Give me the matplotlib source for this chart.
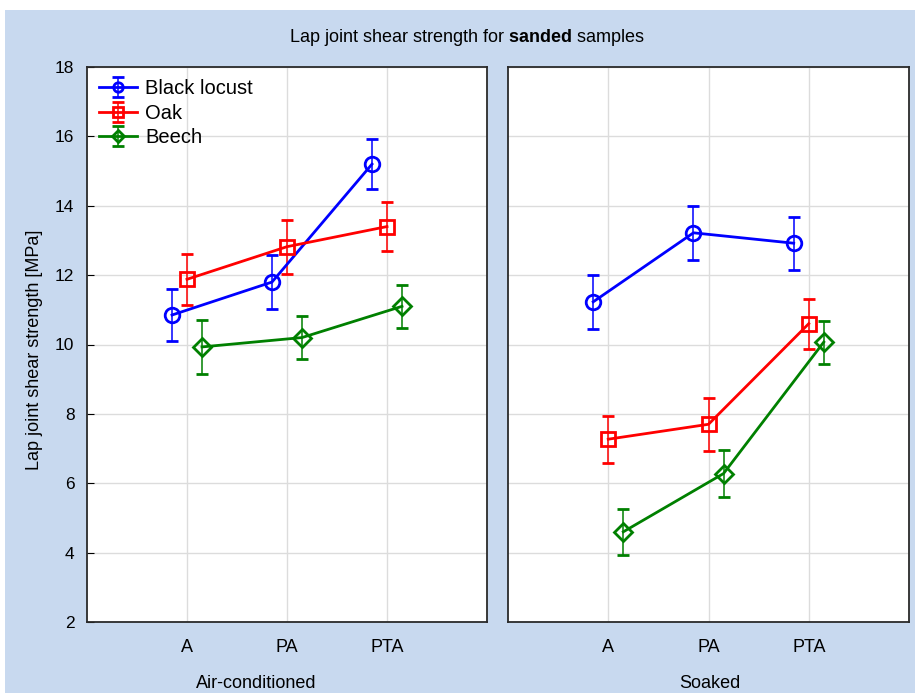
import numpy as np
import matplotlib.pyplot as plt
from matplotlib.patches import Rectangle

plt.rcParams['font.family'] = ['Liberation Sans', 'DejaVu Sans']
plt.rcParams['mathtext.fontset'] = 'custom'
plt.rcParams['mathtext.rm'] = 'Liberation Sans'
plt.rcParams['mathtext.bf'] = 'Liberation Sans:bold'

categories = ["A", "PA", "PTA"]
conditions = ["Air-conditioned", "Soaked"]
species = ["Black locust", "Oak", "Beech"]

# mean values [MPa] per condition
black_locust_air = [10.85, 11.8, 15.2]
oak_air = [11.88, 12.82, 13.4]
beech_air = [9.93, 10.2, 11.1]

black_locust_soaked = [11.23, 13.22, 12.92]
oak_soaked = [7.27, 7.7, 10.6]
beech_soaked = [4.6, 6.28, 10.07]

# half width of the error bars
err_black_locust_air = [0.75, 0.77, 0.73]
err_oak_air = [0.73, 0.78, 0.7]
err_beech_air = [0.78, 0.63, 0.62]

err_black_locust_soaked = [0.77, 0.77, 0.77]
err_oak_soaked = [0.68, 0.77, 0.72]
err_beech_soaked = [0.67, 0.68, 0.62]

colors = ["#0000ff", "#ff0000", "#008000"]
markers = ["o", "s", "D"]
offsets = [-0.15, 0.0, 0.15]

data = {
    "Air-conditioned": ([black_locust_air, oak_air, beech_air],
                        [err_black_locust_air, err_oak_air, err_beech_air]),
    "Soaked": ([black_locust_soaked, oak_soaked, beech_soaked],
               [err_black_locust_soaked, err_oak_soaked, err_beech_soaked]),
}

fig = plt.figure(figsize=(9.15, 6.93), dpi=100)
fig.patch.set_facecolor("white")
fig.patches.append(Rectangle((5 / 915, 0), 1, 1 - 10 / 693, transform=fig.transFigure,
                             facecolor="#c8d9ef", edgecolor="none", zorder=-10))

ax1 = fig.add_axes([87 / 915, 1 - 622 / 693, 400 / 915, 555 / 693])
ax2 = fig.add_axes([508 / 915, 1 - 622 / 693, 401 / 915, 555 / 693])

x = np.arange(1, len(categories) + 1)

for ax, cond in zip([ax1, ax2], conditions):
    means, errs = data[cond]
    for i in range(len(species)):
        ms = 10.5 if markers[i] != "D" else 9
        ax.errorbar(x + offsets[i], means[i], yerr=errs[i], color=colors[i],
                    marker=markers[i], ms=ms, mfc="none", mew=2, lw=2,
                    elinewidth=1.1, capsize=4, capthick=1.1, label=species[i])
    ax.set_xlim(0, 4)
    ax.set_ylim(2, 18)
    ax.set_yticks(np.arange(2, 19, 2))
    ax.set_xticks(x)
    ax.set_xticklabels(categories, fontsize=13)
    ax.grid(True, color="#dcdcdc", lw=1)
    ax.set_axisbelow(True)
    for s in ax.spines.values():
        s.set_color("#2a2a2a")
        s.set_linewidth(1.3)
    ax.tick_params(axis="x", length=0, pad=12)
    ax.tick_params(axis="y", direction="in", length=5, labelsize=12.5, pad=9)

ax2.tick_params(axis="y", left=False, labelleft=False)

ax1.legend(loc="upper left", frameon=False, fontsize=14.5, handlelength=1.9,
           borderaxespad=0.2, labelspacing=0.28, handletextpad=0.4, markerscale=0.65)

fig.text(467 / 915, 1 - 37 / 693, "Lap joint shear strength for $\\bf{sanded}$ samples",
         ha="center", va="center", fontsize=13)
fig.text(256 / 915, 1 - 683 / 693, conditions[0], ha="center", va="center", fontsize=13)
fig.text(710 / 915, 1 - 683 / 693, conditions[1], ha="center", va="center", fontsize=13)
fig.text(35 / 915, 1 - 350 / 693, "Lap joint shear strength [MPa]", rotation=90,
         ha="center", va="center", fontsize=13)

fig.savefig("out.png", dpi=100)
